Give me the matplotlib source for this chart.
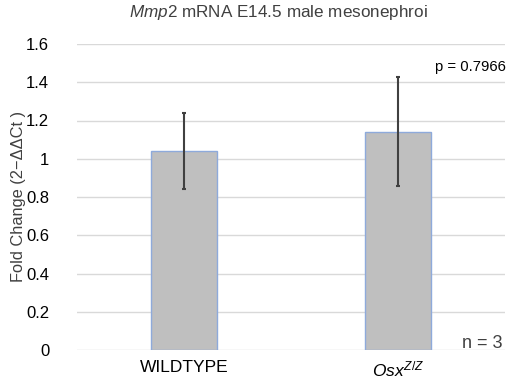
import matplotlib
matplotlib.use("Agg")
import matplotlib.pyplot as plt

plt.rcParams['font.family'] = ['Liberation Sans', 'DejaVu Sans']
plt.rcParams['mathtext.fontset'] = 'custom'
plt.rcParams['mathtext.rm'] = 'Liberation Sans'
plt.rcParams['mathtext.it'] = 'Liberation Sans:italic'

categories = ['WILDTYPE', r'$\mathit{Osx}^{\mathit{Z/Z}}$']
values = [1.04, 1.14]
errors = [0.20, 0.285]
yticks = [0, 0.2, 0.4, 0.6, 0.8, 1.0, 1.2, 1.4, 1.6]
ytick_labels = ['0', '0.2', '0.4', '0.6', '0.8', '1', '1.2', '1.4', '1.6']

W, H = 512, 381
fig = plt.figure(figsize=(W/100, H/100), dpi=100)
ax = fig.add_axes([77/W, (H-350)/H, (505-77)/W, (350-44)/H])

x = list(range(len(categories)))
ax.bar(x, values, width=0.31, color='#bfbfbf', edgecolor='#8eaadb', linewidth=1.0, zorder=2)
ax.errorbar(x, values, yerr=errors, fmt='none', ecolor='#404040', elinewidth=1.5, capsize=1.5, capthick=1.5, zorder=3)

ax.set_xlim(-0.5, 1.5)
ax.set_ylim(0, 1.6)
ax.set_yticks(yticks)
ax.set_yticklabels(ytick_labels, fontsize=12)
ax.set_xticks(x)
ax.set_xticklabels(categories, fontsize=12.5)
ax.tick_params(length=0, pad=7)
ax.tick_params(axis='y', pad=20)
ax.yaxis.grid(True, color='#d9d9d9', linewidth=1.0, zorder=0)
ax.set_axisbelow(True)
for s in ax.spines.values():
    s.set_visible(False)

ax.set_ylabel('Fold Change (2\u2212\u0394\u0394Ct )', fontsize=11.8, color='#404040', labelpad=0)
fig.text(278/W, 1 - 13/H, r'$\mathit{Mmp2}$ mRNA E14.5 male mesonephroi', ha='center', va='center', fontsize=12.3, color='#404040')
fig.text(506/W, 1 - 67/H, 'p = 0.7966', ha='right', va='center', fontsize=10.7)
fig.text(502/W, 1 - 343/H, 'n = 3', ha='right', va='center', fontsize=13, color='#404040')

fig.savefig('out.png', dpi=100)
